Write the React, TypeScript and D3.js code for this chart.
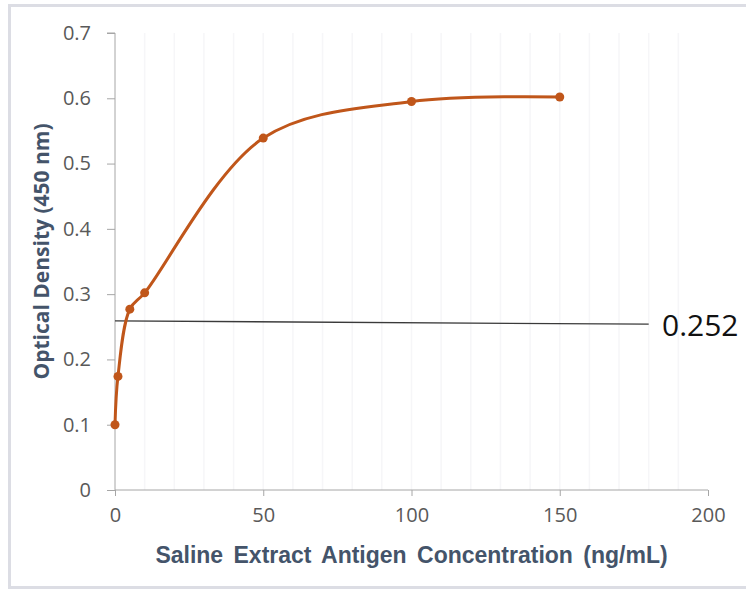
import React, { useEffect, useRef } from "react";
import * as d3 from "d3";

// concentration (ng/mL) and optical density readings
const concentration = [0, 1, 5, 10, 50, 100, 150];
const opticalDensity = [0.1, 0.174, 0.277, 0.302, 0.539, 0.595, 0.602];

// cut-off line drawn across the plot
const cutoffX = [0, 180];
const cutoffY = [0.259, 0.254];
const cutoffLabel = "0.252";

const xTicks = [0, 50, 100, 150, 200];
const yTicks = [0, 0.1, 0.2, 0.3, 0.4, 0.5, 0.6, 0.7];
const xGrid = d3.range(10, 200, 10);

export default function App() {
  const ref = useRef<SVGSVGElement>(null);

  useEffect(() => {
    if (!ref.current) return;
    const svg = d3.select(ref.current);
    svg.selectAll("*").remove();

    const W = 746;
    const H = 590;
    const margin = { top: 33, right: 38, bottom: 100, left: 115 };

    // outer frame
    svg
      .append("rect")
      .attr("x", 9.5)
      .attr("y", 5.5)
      .attr("width", W + 20)
      .attr("height", H - 8)
      .attr("fill", "white")
      .attr("stroke", "#dcdde4")
      .attr("stroke-width", 3);

    const x = d3.scaleLinear().domain([0, 200]).range([margin.left, W - margin.right]);
    const y = d3.scaleLinear().domain([0, 0.7]).range([H - margin.bottom, margin.top]);

    // faint vertical gridlines
    svg
      .append("g")
      .selectAll("line")
      .data(xGrid)
      .enter()
      .append("line")
      .attr("x1", (d) => x(d))
      .attr("x2", (d) => x(d))
      .attr("y1", y(0.7))
      .attr("y2", y(0))
      .attr("stroke", "#f6f6f8")
      .attr("stroke-width", 1.5);

    const tickFont = "'Open Sans', 'Noto Sans', sans-serif";

    // y axis
    const yAxis = svg
      .append("g")
      .attr("transform", `translate(${x(0)},0)`)
      .call(
        d3
          .axisLeft(y)
          .tickValues(yTicks)
          .tickSize(8)
          .tickPadding(16)
          .tickFormat((d) => (d === 0 ? "0" : d3.format(".1f")(d as number)))
      );
    yAxis.select(".domain").attr("stroke", "#a6a6a6").attr("d", `M-8,${y(0.7)}H0V${y(0)}`);
    yAxis.selectAll(".tick line").attr("stroke", "#a6a6a6");
    yAxis
      .selectAll(".tick text")
      .attr("fill", "#595959")
      .style("font-size", "20px")
      .style("font-family", tickFont);

    // x axis
    const xAxis = svg
      .append("g")
      .attr("transform", `translate(0,${y(0)})`)
      .call(d3.axisBottom(x).tickValues(xTicks).tickSize(6).tickPadding(12).tickFormat(d3.format("d")));
    xAxis.select(".domain").attr("stroke", "#a6a6a6").attr("d", `M${x(0)},0H${x(200)}`);
    xAxis.selectAll(".tick line").attr("stroke", "#a6a6a6");
    xAxis
      .selectAll(".tick text")
      .attr("fill", "#595959")
      .style("font-size", "20px")
      .style("font-family", tickFont);

    // cut-off line
    svg
      .append("line")
      .attr("x1", x(cutoffX[0]))
      .attr("x2", x(cutoffX[1]))
      .attr("y1", y(cutoffY[0]))
      .attr("y2", y(cutoffY[1]))
      .attr("stroke", "#3a3a3a")
      .attr("stroke-width", 1.3);

    svg
      .append("text")
      .attr("x", 662)
      .attr("y", y(cutoffY[1]) + 12)
      .attr("fill", "#111")
      .style("font-size", "30px")
      .style("font-family", tickFont)
      .text(cutoffLabel);

    // curve
    const pts = concentration.map((c, i) => [c, opticalDensity[i]] as [number, number]);
    const line = d3
      .line<[number, number]>()
      .x((d) => x(d[0]))
      .y((d) => y(d[1]))
      .curve(d3.curveCatmullRom.alpha(0.5));

    svg
      .append("path")
      .datum(pts)
      .attr("d", line)
      .attr("fill", "none")
      .attr("stroke", "#c0561a")
      .attr("stroke-width", 3);

    svg
      .append("g")
      .selectAll("circle")
      .data(pts)
      .enter()
      .append("circle")
      .attr("cx", (d) => x(d[0]))
      .attr("cy", (d) => y(d[1]))
      .attr("r", 4.5)
      .attr("fill", "#c0561a");

    // axis titles
    svg
      .append("text")
      .attr("x", (x(0) + x(200)) / 2)
      .attr("y", 563)
      .attr("text-anchor", "middle")
      .attr("fill", "#44546a")
      .style("font-size", "23px")
      .style("font-weight", "bold")
      .style("font-family", "'Liberation Sans', Arial, sans-serif")
      .style("word-spacing", "4px")
      .text("Saline Extract Antigen Concentration (ng/mL)");

    svg
      .append("text")
      .attr("transform", `translate(49,${(y(0) + y(0.7)) / 2 - 10}) rotate(-90)`)
      .attr("text-anchor", "middle")
      .attr("fill", "#44546a")
      .style("font-size", "21px")
      .style("font-weight", "bold")
      .style("font-family", "'Open Sans', 'Noto Sans', sans-serif")
      .text("Optical Density (450 nm)");
  }, []);

  return (
    <svg
      ref={ref}
      width={746}
      height={590}
      style={{ position: "absolute", left: 0, top: 0, background: "white" }}
    />
  );
}
